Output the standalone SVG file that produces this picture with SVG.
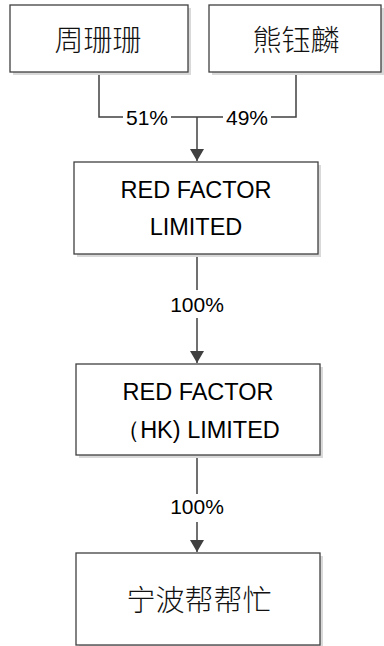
<svg xmlns="http://www.w3.org/2000/svg" width="384" height="646" viewBox="0 0 384 646">
<defs>
<style>
.box{fill:#ffffff;stroke:#404040;stroke-width:1.3}
.sh{fill:#d9d9d9}
.ln{fill:none;stroke:#404040;stroke-width:1.5}
.en{font-family:"Liberation Sans","Open Sans",sans-serif;font-size:23.5px;fill:#000;text-anchor:middle}
.pc{font-family:"Liberation Sans","Open Sans",sans-serif;font-size:21px;fill:#000;text-anchor:middle}
.cn{font-family:"Noto Sans CJK SC",sans-serif;font-size:29px;font-weight:300;fill:#111;text-anchor:middle}
.lbg{fill:#ffffff}
</style>
<marker id="ah" viewBox="0 0 12 14" refX="12" refY="7" markerWidth="12" markerHeight="14" markerUnits="userSpaceOnUse" orient="auto">
<path d="M0,0 L12,7 L0,14 Z" fill="#404040"/>
</marker>
</defs>
<rect width="384" height="646" fill="#ffffff"/>
<g id="connectors">
<path class="ln" d="M99,72 V117 H296 V72"/>
<path class="ln" d="M197,117 V161" marker-end="url(#ah)"/>
<rect class="lbg" x="123" y="106" width="48" height="22"/>
<text class="pc" x="147" y="125">51%</text>
<rect class="lbg" x="223" y="106" width="48" height="22"/>
<text class="pc" x="247" y="125">49%</text>
<path class="ln" d="M197,254 V363" marker-end="url(#ah)"/>
<rect class="lbg" x="168" y="290" width="58" height="28"/>
<text class="pc" x="197" y="312">100%</text>
<path class="ln" d="M197,455 V552" marker-end="url(#ah)"/>
<rect class="lbg" x="168" y="494" width="58" height="28"/>
<text class="pc" x="197" y="514">100%</text>
</g>
<g id="n1">
<rect class="sh" x="13" y="8" width="178" height="67"/>
<rect class="box" x="10" y="5" width="178" height="67"/>
<text class="cn" x="98" y="51">周珊珊</text>
</g>
<g id="n2">
<rect class="sh" x="212" y="8" width="172" height="67"/>
<rect class="box" x="209" y="5" width="172" height="67"/>
<text class="cn" x="296" y="51">熊钰麟</text>
</g>
<g id="n3">
<rect class="sh" x="77" y="165" width="244" height="92"/>
<rect class="box" x="74" y="162" width="244" height="92"/>
<text class="en" x="196" y="198">RED FACTOR</text>
<text class="en" x="196" y="235">LIMITED</text>
</g>
<g id="n4">
<rect class="sh" x="79" y="367" width="244" height="91"/>
<rect class="box" x="76" y="364" width="244" height="91"/>
<text class="en" x="198" y="400">RED FACTOR</text>
<text class="en" x="198" y="438">（HK) LIMITED</text>
</g>
<g id="n5">
<rect class="sh" x="79" y="556" width="244" height="92"/>
<rect class="box" x="76" y="553" width="244" height="92"/>
<text class="cn" x="199" y="611">宁波帮帮忙</text>
</g>
</svg>
